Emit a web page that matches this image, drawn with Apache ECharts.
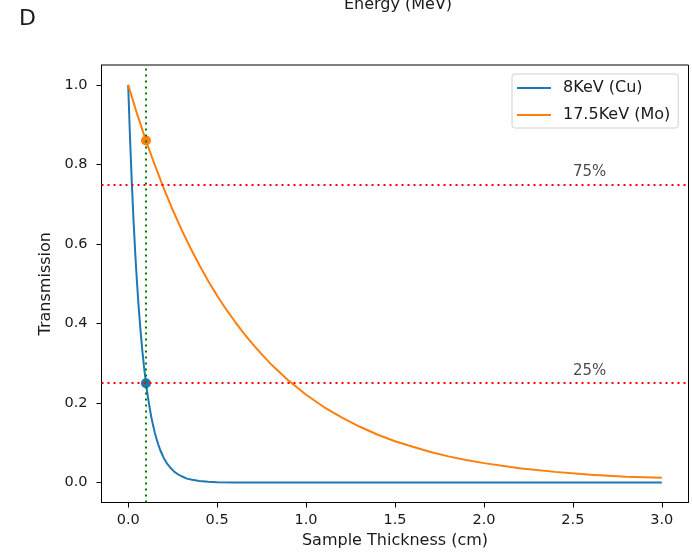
<!DOCTYPE html>
<html>
<head>
<meta charset="utf-8">
<script src="https://cdn.jsdelivr.net/npm/echarts@6/dist/echarts.min.js"></script>
<style>
html,body{margin:0;padding:0;background:#fff;}
#chart{width:692px;height:556px;}
</style>
</head>
<body>
<div id="chart"></div>
<script>
// ---- data ----
const seriesNames = ['8KeV (Cu)', '17.5KeV (Mo)'];
const thicknessCu = [0, 0.01, 0.02, 0.03, 0.04, 0.05, 0.06, 0.07, 0.08, 0.09, 0.10, 0.11, 0.12, 0.13, 0.14, 0.15, 0.16, 0.17, 0.18, 0.19, 0.20, 0.22, 0.24, 0.26, 0.28, 0.30, 0.33, 0.36, 0.40, 0.45, 0.50, 0.60, 0.80, 1.0, 1.5, 2.0, 2.5, 3.0];
const transCu     = [1.0, 0.871, 0.758, 0.66, 0.574, 0.5, 0.435, 0.379, 0.33, 0.287, 0.25, 0.218, 0.19, 0.165, 0.144, 0.125, 0.109, 0.095, 0.082, 0.072, 0.062, 0.047, 0.036, 0.027, 0.021, 0.016, 0.010, 0.007, 0.004, 0.002, 0.001, 0.0003, 0, 0, 0, 0, 0, 0];
const thicknessMo = [0, 0.05, 0.1, 0.15, 0.2, 0.25, 0.3, 0.35, 0.4, 0.45, 0.5, 0.55, 0.6, 0.65, 0.7, 0.75, 0.8, 0.85, 0.9, 0.95, 1.0, 1.1, 1.2, 1.3, 1.4, 1.5, 1.6, 1.7, 1.8, 1.9, 2.0, 2.2, 2.4, 2.6, 2.8, 3.0];
const transMo     = [1.0, 0.927, 0.86, 0.798, 0.74, 0.686, 0.636, 0.59, 0.547, 0.507, 0.47, 0.436, 0.405, 0.375, 0.348, 0.323, 0.299, 0.278, 0.257, 0.239, 0.221, 0.19, 0.164, 0.141, 0.121, 0.104, 0.09, 0.077, 0.066, 0.057, 0.049, 0.036, 0.027, 0.02, 0.015, 0.012];
const markerX = [0.1, 0.1];
const markerY = [0.25, 0.86];           // Cu, Mo
const hLines = [0.75, 0.25];
const vLines = [0.1];
const lineLabels = ['75%', '25%'];
const lineLabelX = [2.5, 2.5];
const lineLabelY = [0.781, 0.281];
const xTicks = [0, 0.5, 1.0, 1.5, 2.0, 2.5, 3.0];
const yTicks = [0, 0.2, 0.4, 0.6, 0.8, 1.0];

const blue = '#1f77b4', orange = '#ff7f0e';
const font = 'DejaVu Sans';
const txt = '#1a1a1a';

const chart = echarts.init(document.getElementById('chart'), null, {renderer: 'canvas'});
const zip = (a, b) => a.map((v, i) => [v, b[i]]);

chart.setOption({
  animation: false,
  backgroundColor: '#fff',
  textStyle: {fontFamily: font},
  grid: {left: 101.5, top: 65, right: 3.5, bottom: 53.5, show: true, borderColor: '#000', borderWidth: 1, backgroundColor: 'transparent'},
  graphic: [
    {type: 'text', x: 19, y: 19.5, style: {text: 'D', font: '22px DejaVu Sans', fill: txt, verticalAlign: 'middle', align: 'left'}},
    {type: 'text', x: 398, y: 4.5, style: {text: 'Energy (MeV)', font: '16px DejaVu Sans', fill: txt, verticalAlign: 'middle', align: 'center'}}
  ],
  legend: {
    data: seriesNames,
    orient: 'vertical',
    left: 512, top: 74,
    padding: [5, 8, 4, 5],
    itemGap: 9,
    itemWidth: 34, itemHeight: 2,
    icon: 'rect',
    backgroundColor: '#fff',
    borderColor: '#d0d0d0', borderWidth: 1, borderRadius: 3,
    textStyle: {fontFamily: font, fontSize: 16, color: txt, lineHeight: 18, padding: [0, 0, 0, 7]}
  },
  xAxis: {
    type: 'value', min: -0.15, max: 3.15,
    name: 'Sample Thickness (cm)', nameLocation: 'middle', nameGap: 30,
    nameTextStyle: {fontFamily: font, fontSize: 16, color: txt},
    axisLine: {show: true, onZero: false, lineStyle: {color: '#000', width: 1}},
    axisTick: {show: true, length: 5, lineStyle: {color: '#000'}, customValues: xTicks},
    axisLabel: {fontFamily: font, fontSize: 14.5, color: txt, margin: 10, customValues: xTicks, formatter: v => v.toFixed(1)},
    splitLine: {show: false}
  },
  yAxis: {
    type: 'value', min: -0.05, max: 1.05,
    name: 'Transmission', nameLocation: 'middle', nameGap: 47, nameRotate: 90,
    nameTextStyle: {fontFamily: font, fontSize: 16, color: txt},
    axisLine: {show: true, onZero: false, lineStyle: {color: '#000', width: 1}},
    axisTick: {show: true, length: 5, lineStyle: {color: '#000'}, customValues: yTicks},
    axisLabel: {fontFamily: font, fontSize: 14.5, color: txt, margin: 14, customValues: yTicks, formatter: v => v.toFixed(1)},
    splitLine: {show: false}
  },
  series: [
    {
      name: seriesNames[0], type: 'line', data: zip(thicknessCu, transCu),
      symbol: 'none', smooth: false,
      lineStyle: {color: blue, width: 2}, itemStyle: {color: blue}, z: 2
    },
    {
      name: seriesNames[1], type: 'line', data: zip(thicknessMo, transMo),
      symbol: 'none', smooth: false,
      lineStyle: {color: orange, width: 2}, itemStyle: {color: orange}, z: 2
    },
    {
      name: 'refs', type: 'scatter', data: [], z: 3, silent: true,
      markLine: {
        symbol: 'none', silent: true, animation: false,
        label: {show: false},
        data: hLines.map(v => ({yAxis: v, lineStyle: {color: '#ff0000', width: 2, type: [2, 4]}}))
          .concat(vLines.map(v => ({xAxis: v, lineStyle: {color: '#008000', width: 2, type: [2, 4]}})))
      }
    },
    {
      name: 'markCu', type: 'scatter', data: [[markerX[0], markerY[0]]],
      symbol: 'circle', symbolSize: 10, itemStyle: {color: blue, opacity: 1}, z: 4
    },
    {
      name: 'markMo', type: 'scatter', data: [[markerX[1], markerY[1]]],
      symbol: 'circle', symbolSize: 10, itemStyle: {color: orange, opacity: 1}, z: 4
    },
    {
      name: 'labels', type: 'scatter', symbolSize: 0, silent: true, z: 5,
      data: lineLabels.map((t, i) => ({value: [lineLabelX[i], lineLabelY[i]], name: t})),
      label: {show: true, position: 'inside', align: 'left', verticalAlign: 'middle',
        formatter: p => p.name, fontFamily: font, fontSize: 15, color: txt}
    }
  ]
});
</script>
</body>
</html>
